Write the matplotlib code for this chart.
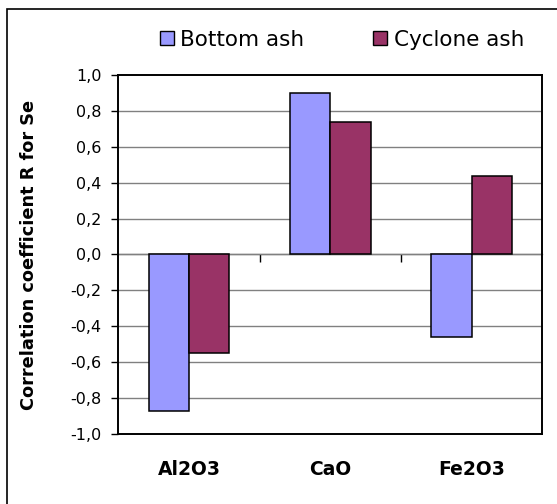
"""
plot.py
-------
Correlation coefficient R for Se vs. main oxides (bottom ash / cyclone ash),
redrawn as an Excel-style grouped bar chart -> out.png
"""

import numpy as np
import matplotlib
matplotlib.use("Agg")  # no display in the sandbox
import matplotlib.pyplot as plt
from matplotlib.patches import Patch, Rectangle

CATEGORIES = ["Al2O3", "CaO", "Fe2O3"]
SERIES_NAMES = ["Bottom ash", "Cyclone ash"]
BOTTOM_ASH = [-0.87, 0.90, -0.46]
CYCLONE_ASH = [-0.55, 0.74, 0.44]
Y_TICKS = [-1.0, -0.8, -0.6, -0.4, -0.2, 0.0, 0.2, 0.4, 0.6, 0.8, 1.0]

COLORS = ["#9999FF", "#993366"]
GRID_GRAY = "#808080"


def comma_label(v: float) -> str:
    """Excel (European locale) style tick label: 0,2 instead of 0.2"""
    if abs(v) < 1e-9:
        v = 0.0
    return f"{v:.1f}".replace(".", ",")


def main():
    plt.rcParams["font.family"] = ["DejaVu Sans"]

    fig = plt.figure(figsize=(5.57, 5.04), dpi=100)
    ax = fig.add_axes([0.2124, 0.1389, 0.7612, 0.7123])

    # ---------------------------------------------------------------
    # 1. Bars (Excel gap width 150% -> bar width = 1 / 3.5)
    # ---------------------------------------------------------------
    x = np.arange(len(CATEGORIES))
    w = 1 / 3.5
    for offset, values, color in zip((-w / 2, w / 2), (BOTTOM_ASH, CYCLONE_ASH), COLORS):
        ax.bar(x + offset, values, width=w, color=color,
               edgecolor="black", linewidth=1.1, zorder=3)

    # ---------------------------------------------------------------
    # 2. Axes, grid, ticks
    # ---------------------------------------------------------------
    ax.set_xlim(-0.5, len(CATEGORIES) - 0.5)
    ax.set_ylim(-1.0, 1.0)
    ax.set_yticks(Y_TICKS)
    ax.set_yticklabels([comma_label(v) for v in Y_TICKS], fontsize=11.5)
    ax.tick_params(axis="y", direction="out", length=5, width=1, pad=7)

    for v in Y_TICKS[1:-1]:
        ax.axhline(v, color=GRID_GRAY, linewidth=1.0, zorder=1)

    ax.set_xticks(x)
    ax.set_xticklabels(CATEGORIES, fontsize=13.5, fontweight="bold")
    ax.tick_params(axis="x", length=0, pad=19)

    # category axis sits at y = 0 (data), with ticks between groups
    secax = ax.secondary_xaxis(0, transform=ax.transData)
    secax.set_xticks(x[:-1] + 0.5)
    secax.set_xticklabels([])
    secax.tick_params(direction="out", length=6, width=1, color="black")
    secax.spines["bottom"].set_color(GRID_GRAY)
    secax.spines["bottom"].set_linewidth(1.0)
    secax.set_zorder(2)

    for side in ("left", "right", "top", "bottom"):
        ax.spines[side].set_linewidth(1.4)
        ax.spines[side].set_color("black")

    ax.set_ylabel("Correlation coefficient R for Se", fontsize=12.8,
                  fontweight="bold", labelpad=23)

    # ---------------------------------------------------------------
    # 3. Legend across the top
    # ---------------------------------------------------------------
    handles = [Patch(facecolor=c, edgecolor="black", linewidth=1.0) for c in COLORS]
    fig.legend(handles, SERIES_NAMES, loc="center", bbox_to_anchor=(0.614, 0.921),
               ncol=2, frameon=False, fontsize=15.5, handlelength=0.65,
               handleheight=0.65, handletextpad=0.3, columnspacing=3.2)

    # chart border (right/bottom edges fall outside the image)
    fig.patches.append(Rectangle((6.7 / 557, -0.1), 1.2, 1 - 8.7 / 504 + 0.1,
                                 transform=fig.transFigure, fill=False,
                                 edgecolor="black", linewidth=1.2))

    fig.savefig("out.png", dpi=100)
    plt.close(fig)


if __name__ == "__main__":
    main()
